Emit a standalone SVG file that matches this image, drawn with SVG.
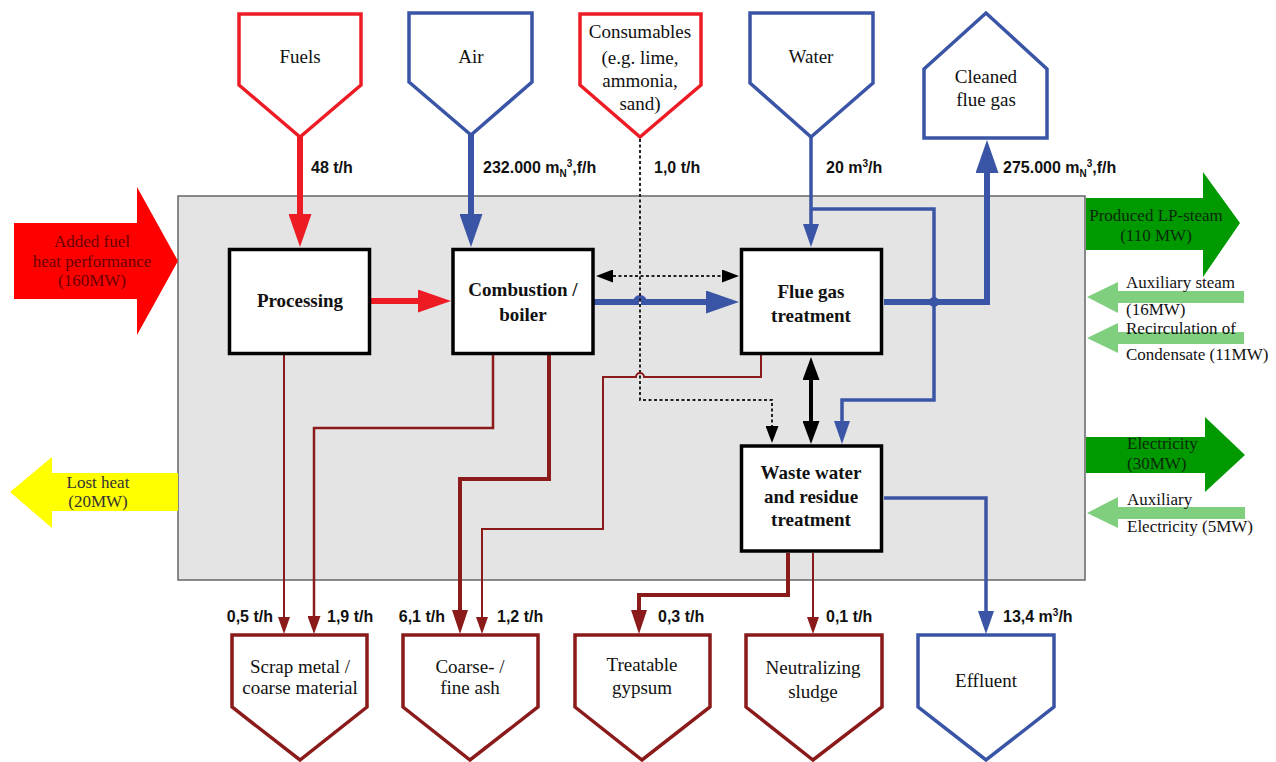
<svg xmlns="http://www.w3.org/2000/svg" width="1276" height="762" viewBox="0 0 1276 762">
  <defs>
    <style>
      .serif { font-family: "Liberation Serif", "Times New Roman", serif; fill: #111; }
      .lbl { font-family: "Liberation Serif", "Times New Roman", serif; font-size: 19px; text-anchor: middle; }
      .proc { font-family: "Liberation Serif", "Times New Roman", serif; font-size: 19px; font-weight: bold; text-anchor: middle; }
      .side { font-family: "Liberation Serif", "Times New Roman", serif; font-size: 17px; }
      .flow { font-family: "Liberation Sans", Arial, sans-serif; font-size: 16px; font-weight: bold; fill: #111; }
      .sub { font-size: 10px; }
      .box { fill: #fff; stroke: #000; stroke-width: 3.5; }
      .inRed { fill: #fff; stroke: #ed1c24; stroke-width: 3.5; stroke-linejoin: miter; }
      .inBlue { fill: #fff; stroke: #3a55a5; stroke-width: 3.5; stroke-linejoin: miter; }
      .outRed { fill: #fff; stroke: #8b1a1a; stroke-width: 3.5; stroke-linejoin: miter; }
      .c { fill: none; stroke-linejoin: miter; }
      .red { stroke: #ed1c24; stroke-width: 6; }
      .blueT { stroke: #3a55a5; stroke-width: 6; }
      .blue { stroke: #3a55a5; stroke-width: 3.5; }
      .blk { stroke: #000; stroke-width: 4; }
      .dot { stroke: #222; stroke-width: 2; stroke-dasharray: 3 2.5; }
      .dr { stroke: #8b1a1a; stroke-width: 2; }
      .drM { stroke: #8b1a1a; stroke-width: 2.5; }
      .drT { stroke: #8b1a1a; stroke-width: 4; }
    </style>
    <marker id="hRed" markerUnits="userSpaceOnUse" markerWidth="33" markerHeight="23" refX="0" refY="11.5" orient="auto">
      <path d="M0,0 L33,11.5 L0,23 Z" fill="#ed1c24"/>
    </marker>
    <marker id="hBlueL" markerUnits="userSpaceOnUse" markerWidth="33" markerHeight="23" refX="0" refY="11.5" orient="auto">
      <path d="M0,0 L33,11.5 L0,23 Z" fill="#3a55a5"/>
    </marker>
    <marker id="hBlue" markerUnits="userSpaceOnUse" markerWidth="23" markerHeight="16" refX="0" refY="8" orient="auto">
      <path d="M0,0 L23,8 L0,16 Z" fill="#3a55a5"/>
    </marker>
    <marker id="hBlk" markerUnits="userSpaceOnUse" markerWidth="23" markerHeight="17" refX="0" refY="8.5" orient="auto-start-reverse">
      <path d="M0,0 L23,8.5 L0,17 Z" fill="#000"/>
    </marker>
    <marker id="hDot" markerUnits="userSpaceOnUse" markerWidth="17" markerHeight="13" refX="0" refY="6.5" orient="auto-start-reverse">
      <path d="M0,0 L17,6.5 L0,13 Z" fill="#000"/>
    </marker>
    <marker id="hDr" markerUnits="userSpaceOnUse" markerWidth="17" markerHeight="12" refX="0" refY="6" orient="auto">
      <path d="M0,0 L17,6 L0,12 Z" fill="#8b1a1a"/>
    </marker>
    <marker id="hDrM" markerUnits="userSpaceOnUse" markerWidth="18" markerHeight="13" refX="0" refY="6.5" orient="auto">
      <path d="M0,0 L18,6.5 L0,13 Z" fill="#8b1a1a"/>
    </marker>
    <marker id="hDrT" markerUnits="userSpaceOnUse" markerWidth="24" markerHeight="16" refX="0" refY="8" orient="auto">
      <path d="M0,0 L24,8 L0,16 Z" fill="#8b1a1a"/>
    </marker>
  </defs>

  <rect width="1276" height="762" fill="#fff"/>

  <!-- plant boundary -->
  <rect id="plant" x="178" y="196" width="907" height="384" fill="#e4e4e4" stroke="#666" stroke-width="1.5"/>

  <!-- energy flows across the boundary -->
  <g id="energy-in-fuel">
    <path d="M14,223 H137 V187 L178,261 L137,335 V299 H14 Z" fill="#fe0000"/>
    <text class="serif side" text-anchor="middle" x="92" y="247" style="fill:#6b0000">Added fuel</text>
    <text class="serif side" text-anchor="middle" x="92" y="267" style="fill:#6b0000">heat performance</text>
    <text class="serif side" text-anchor="middle" x="92" y="286" style="fill:#6b0000">(160MW)</text>
  </g>
  <g id="energy-lost-heat">
    <path d="M178,473 H52 V457 L10,492 L52,528 V511 H178 Z" fill="#ffff00"/>
    <text class="serif side" text-anchor="middle" x="98" y="488" style="fill:#333">Lost heat</text>
    <text class="serif side" text-anchor="middle" x="98" y="507" style="fill:#333">(20MW)</text>
  </g>
  <g id="energy-lp-steam">
    <path d="M1086,198 H1203 V172 L1240,223 L1203,277 V250 H1086 Z" fill="#009a00"/>
    <text class="serif side" text-anchor="middle" x="1156" y="221" style="fill:#0b2a0b">Produced LP-steam</text>
    <text class="serif side" text-anchor="middle" x="1156" y="241" style="fill:#0b2a0b">(110 MW)</text>
  </g>
  <g id="energy-aux-steam">
    <path d="M1087,297 L1118,282 V291 H1244 V303 H1118 V313 Z" fill="#7fcf7f"/>
    <text class="serif side" x="1126" y="288">Auxiliary steam</text>
    <text class="serif side" x="1126" y="315">(16MW)</text>
  </g>
  <g id="energy-condensate">
    <path d="M1087,338 L1118,323 V332 H1244 V344 H1118 V353 Z" fill="#7fcf7f"/>
    <text class="serif side" x="1126" y="334">Recirculation of</text>
    <text class="serif side" x="1126" y="360">Condensate (11MW)</text>
  </g>
  <g id="energy-electricity">
    <path d="M1086,437 H1205 V417 L1245,455 L1205,492 V473 H1086 Z" fill="#009a00"/>
    <text class="serif side" x="1127" y="449" style="fill:#0b2a0b">Electricity</text>
    <text class="serif side" x="1127" y="469" style="fill:#0b2a0b">(30MW)</text>
  </g>
  <g id="energy-aux-electricity">
    <path d="M1087,513 L1118,497 V507 H1245 V519 H1118 V528 Z" fill="#7fcf7f"/>
    <text class="serif side" x="1127" y="505">Auxiliary</text>
    <text class="serif side" x="1127" y="532">Electricity (5MW)</text>
  </g>

  <!-- connectors -->
  <g id="connectors">
    <path class="c red" d="M300,137 V214" marker-end="url(#hRed)"/>
    <path class="c blueT" d="M471,135 V214" marker-end="url(#hBlueL)"/>
    <path class="c red" d="M371,301 H418" marker-end="url(#hRed)"/>
    <path class="c blueT" d="M594,302 H636 A4,4 0 0 1 644,302 H706" marker-end="url(#hBlueL)"/>
    <path class="c dot" d="M613,276 H722" marker-start="url(#hDot)" marker-end="url(#hDot)"/>
    <path class="c dot" d="M640,139 V400 H772 V426" marker-end="url(#hDot)"/>
    <path class="c blueT" d="M884,302 H987 V173" marker-end="url(#hBlueL)"/>
    <circle cx="934" cy="302" r="5" fill="#3a55a5"/>
    <path class="c blue" d="M811,137 V224" marker-end="url(#hBlue)"/>
    <path class="c blue" d="M811,209 H934 V400 H842 V421" marker-end="url(#hBlue)"/>
    <path class="c blk" d="M811,380 V421" marker-start="url(#hBlk)" marker-end="url(#hBlk)"/>
    <path class="c blue" d="M884,498 H986 V611" marker-end="url(#hBlue)"/>
    <path class="c dr" d="M284,355 V617" marker-end="url(#hDr)"/>
    <path class="c drM" d="M493,355 V428 H314 V616" marker-end="url(#hDrM)"/>
    <path class="c drT" d="M549,355 V479 H460 V610" marker-end="url(#hDrT)"/>
    <path class="c dr" d="M761,355 V377 H644 A4,4 0 0 0 636,377 H603 V529 H482 V617" marker-end="url(#hDr)"/>
    <path class="c drT" d="M788,553 V595 H639 V610" marker-end="url(#hDrT)"/>
    <path class="c dr" d="M813,553 V617" marker-end="url(#hDr)"/>
  </g>

  <!-- flow rates -->
  <g id="flow-labels" class="flow">
    <text x="311" y="173">48 t/h</text>
    <text x="483" y="173">232.000 m<tspan class="sub" dy="4">N</tspan><tspan class="sub" dy="-10">3</tspan><tspan dy="6">,f/h</tspan></text>
    <text x="654" y="173">1,0 t/h</text>
    <text x="826" y="173">20 m<tspan class="sub" dy="-6">3</tspan><tspan dy="6">/h</tspan></text>
    <text x="1003" y="173">275.000 m<tspan class="sub" dy="4">N</tspan><tspan class="sub" dy="-10">3</tspan><tspan dy="6">,f/h</tspan></text>
    <text x="273" y="622" text-anchor="end">0,5 t/h</text>
    <text x="327" y="622">1,9 t/h</text>
    <text x="445" y="622" text-anchor="end">6,1 t/h</text>
    <text x="497" y="622">1,2 t/h</text>
    <text x="658" y="622">0,3 t/h</text>
    <text x="826" y="622">0,1 t/h</text>
    <text x="1003" y="622">13,4 m<tspan class="sub" dy="-6">3</tspan><tspan dy="6">/h</tspan></text>
  </g>

  <!-- inputs -->
  <g id="in-fuels">
    <path class="inRed" d="M239,14 H361 V85 L300,137 L239,85 Z"/>
    <text class="serif lbl" x="300" y="63">Fuels</text>
  </g>
  <g id="in-air">
    <path class="inBlue" d="M409,13 H532 V82 L471,135 L409,82 Z"/>
    <text class="serif lbl" x="471" y="63">Air</text>
  </g>
  <g id="in-consumables">
    <path class="inRed" d="M580,14 H701 V85 L640,137 L580,85 Z"/>
    <text class="serif lbl" x="640" y="38">Consumables</text>
    <text class="serif lbl" x="640" y="64">(e.g. lime,</text>
    <text class="serif lbl" x="640" y="87">ammonia,</text>
    <text class="serif lbl" x="640" y="110">sand)</text>
  </g>
  <g id="in-water">
    <path class="inBlue" d="M750,13 H873 V83 L811,137 L750,83 Z"/>
    <text class="serif lbl" x="811" y="63">Water</text>
  </g>
  <g id="out-flue-gas">
    <path class="inBlue" d="M924,138 V69 L986,13 L1047,69 V138 Z"/>
    <text class="serif lbl" x="986" y="83">Cleaned</text>
    <text class="serif lbl" x="986" y="106">flue gas</text>
  </g>

  <!-- process units -->
  <g id="processing">
    <rect class="box" x="229.5" y="249.5" width="140" height="104"/>
    <text class="serif proc" x="300" y="307">Processing</text>
  </g>
  <g id="combustion">
    <rect class="box" x="453" y="249.5" width="140" height="104"/>
    <text class="serif proc" x="523" y="296">Combustion /</text>
    <text class="serif proc" x="523" y="321">boiler</text>
  </g>
  <g id="flue-gas-treatment">
    <rect class="box" x="741.5" y="249.5" width="140" height="104"/>
    <text class="serif proc" x="811" y="298">Flue gas</text>
    <text class="serif proc" x="811" y="322">treatment</text>
  </g>
  <g id="waste-water-treatment">
    <rect class="box" x="741.5" y="446" width="140" height="105"/>
    <text class="serif proc" x="811" y="479">Waste water</text>
    <text class="serif proc" x="811" y="503">and residue</text>
    <text class="serif proc" x="811" y="526">treatment</text>
  </g>

  <!-- outputs -->
  <g id="out-scrap">
    <path class="outRed" d="M232,635 H367 V707 L300,760 L232,707 Z"/>
    <text class="serif lbl" x="300" y="673">Scrap metal /</text>
    <text class="serif lbl" x="300" y="694">coarse material</text>
  </g>
  <g id="out-ash">
    <path class="outRed" d="M403,635 H538 V707 L470,760 L403,707 Z"/>
    <text class="serif lbl" x="470" y="673">Coarse- /</text>
    <text class="serif lbl" x="470" y="694">fine ash</text>
  </g>
  <g id="out-gypsum">
    <path class="outRed" d="M575,635 H710 V707 L642,760 L575,707 Z"/>
    <text class="serif lbl" x="642" y="671">Treatable</text>
    <text class="serif lbl" x="642" y="694">gypsum</text>
  </g>
  <g id="out-sludge">
    <path class="outRed" d="M746,635 H882 V707 L813,760 L746,707 Z"/>
    <text class="serif lbl" x="813" y="674">Neutralizing</text>
    <text class="serif lbl" x="813" y="698">sludge</text>
  </g>
  <g id="out-effluent">
    <path class="inBlue" d="M918,635 H1054 V707 L986,760 L918,707 Z"/>
    <text class="serif lbl" x="986" y="687">Effluent</text>
  </g>
</svg>
